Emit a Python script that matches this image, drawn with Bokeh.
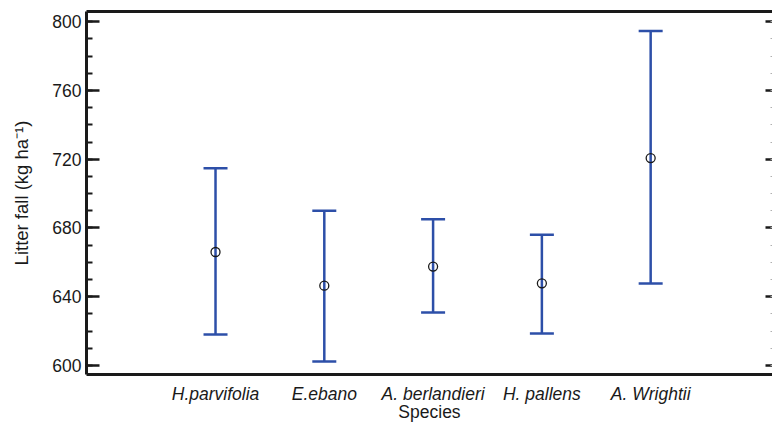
from bokeh.plotting import figure
from bokeh.models import (ColumnDataSource, Whisker, TeeHead, Range1d, LinearAxis,
                          SingleIntervalTicker, FixedTicker)
from bokeh.embed import file_html
from bokeh.resources import INLINE

species = ["H.parvifolia", "E.ebano", "A. berlandieri", "H. pallens", "A. Wrightii"]
means = [666.0, 646.4, 657.5, 647.8, 720.7]
upper = [714.7, 690.0, 685.0, 676.1, 794.7]
lower = [618.0, 602.3, 630.8, 618.6, 647.6]
positions = [1, 2, 3, 4, 5]

BLUE = "#2d4fa8"
INK = "#1a1a1a"
FONT = "Liberation Sans"
FS = "17.5px"

src = ColumnDataSource(dict(x=positions, mean=means, upper=upper, lower=lower))

X_END = 6.12
p = figure(width=772, height=424, output_backend="svg", toolbar_location=None,
           x_range=Range1d(-0.186, X_END), y_range=Range1d(594.7, 806.0),
           min_border_left=86, min_border_right=0, min_border_top=11, min_border_bottom=50)
p.outline_line_color = None
p.grid.visible = False
p.background_fill_color = "white"
p.border_fill_color = "white"

# left axis
ya = p.yaxis[0]
ya.ticker = SingleIntervalTicker(interval=40, num_minor_ticks=4)
ya.axis_line_width = 3
ya.axis_line_color = INK
ya.major_tick_in = 13
ya.major_tick_out = 0
ya.minor_tick_in = 6
ya.minor_tick_out = 0
ya.major_tick_line_width = 2.5
ya.minor_tick_line_width = 2
ya.major_tick_line_color = INK
ya.minor_tick_line_color = INK
ya.major_label_text_font = FONT
ya.major_label_text_font_size = "17.5px"
ya.major_label_text_color = INK
ya.major_label_standoff = 5
ya.axis_label = "Litter fall (kg ha\u207b\u00b9)"
ya.axis_label_text_font = FONT
ya.axis_label_text_font_size = "18.5px"
ya.axis_label_text_font_style = "normal"
ya.axis_label_text_color = INK
ya.axis_label_standoff = 17

# bottom axis
xa = p.xaxis[0]
xa.ticker = FixedTicker(ticks=positions)
xa.major_label_overrides = {pos: name for pos, name in zip(positions, species)}
xa.axis_line_width = 3
xa.axis_line_color = INK
xa.major_tick_line_color = None
xa.minor_tick_line_color = None
xa.major_tick_in = 0
xa.major_tick_out = 0
xa.minor_tick_in = 0
xa.minor_tick_out = 0
xa.major_label_text_font = FONT
xa.major_label_text_font_size = FS
xa.major_label_text_font_style = "italic"
xa.major_label_text_color = INK
xa.major_label_standoff = 9
xa.axis_label = "Species"
xa.axis_label_text_font = FONT
xa.axis_label_text_font_size = FS
xa.axis_label_text_font_style = "normal"
xa.axis_label_text_color = INK
xa.axis_label_standoff = -5

# top axis (frame line only)
top = LinearAxis(ticker=FixedTicker(ticks=[]), axis_line_width=3, axis_line_color=INK,
                 major_tick_line_color=None, minor_tick_line_color=None,
                 major_label_standoff=0)
p.add_layout(top, "above")

# right axis: ticks only, pinned to the frame's right edge
right = LinearAxis(ticker=SingleIntervalTicker(interval=40, num_minor_ticks=4),
                   fixed_location=X_END,
                   axis_line_color=None, major_tick_in=7, major_tick_out=0,
                   minor_tick_in=2, minor_tick_out=0, major_tick_line_width=2.5,
                   major_tick_line_color=INK, minor_tick_line_color="#b0b0b0",
                   minor_tick_line_width=1, major_label_standoff=0,
                   major_label_overrides={v: "" for v in [600, 640, 680, 720, 760, 800]})
p.add_layout(right, "right")

p.add_layout(Whisker(base="x", upper="upper", lower="lower", source=src,
                     line_color=BLUE, line_width=2.5,
                     upper_head=TeeHead(size=24, line_color=BLUE, line_width=2.5),
                     lower_head=TeeHead(size=24, line_color=BLUE, line_width=2.5)))

p.scatter("x", "mean", source=src, marker="circle", size=9,
          fill_color=None, line_color=INK, line_width=1.3)

open("out.html", "w").write(file_html(p, INLINE))
